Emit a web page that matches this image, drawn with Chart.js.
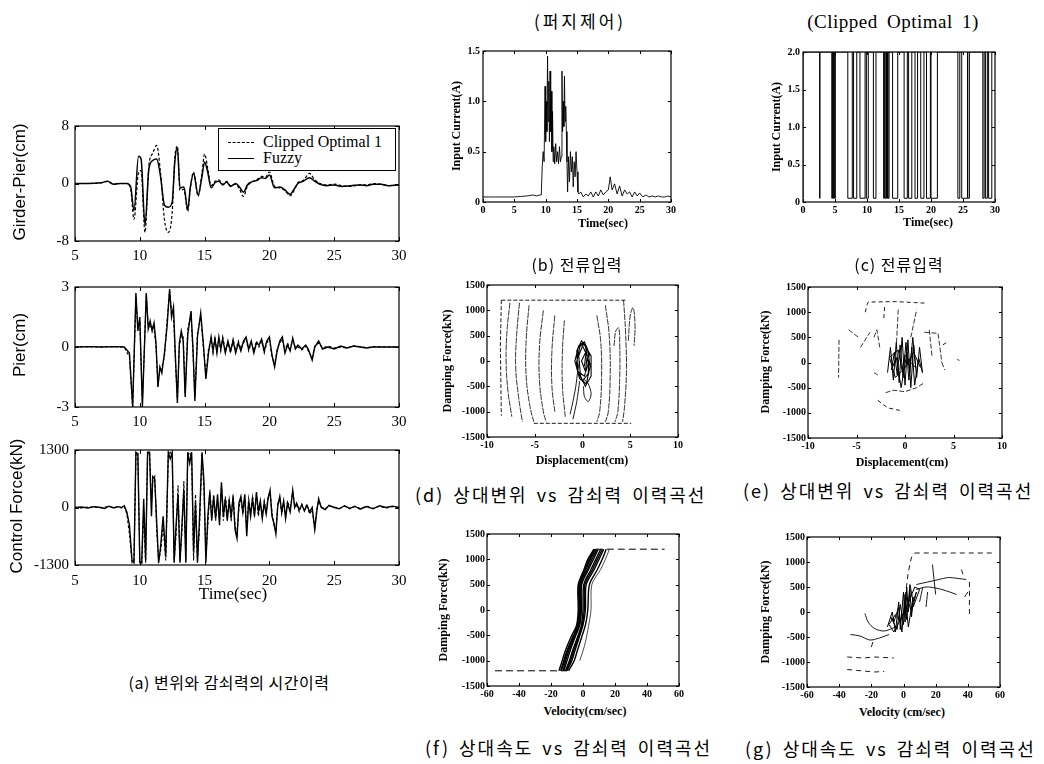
<!DOCTYPE html>
<html>
<head>
<meta charset="utf-8">
<script src="https://cdn.jsdelivr.net/npm/chart.js@4.4.0/dist/chart.umd.min.js"></script>
<style>
  body { margin: 0; background: #fff; width: 1044px; height: 764px; position: relative; overflow: hidden; }
  .box { position: absolute; }
</style>
</head>
<body>
<script>
// ---------- (a) time histories ----------
const tA1 = [5,6,7,7.5,8, 8.5,9,9.3,9.55,9.9, 10.1,10.4,10.7,11.0,11.3, 11.6,11.9,12.2,12.5,12.7,
  12.9,13.1,13.4,13.7,13.9, 14.15,14.5,14.8,15.0,15.25, 15.5,15.8,16.1,16.4,16.7, 17.0,17.4,17.7,18.0,18.3,
  18.6,19.0,19.4,19.7,20.0, 20.4,20.8,21.2,21.6,21.9, 22.2,22.6,23.1,23.5,23.9, 24.4,25.0,25.6,26.3,27.0,
  27.5,28.0,28.6,29.2,30];
const gpFuzzy = [0,0,0.1,0.3,-0.1, 0,0,-0.5,-3.8,3.8, 3.4,-5.8,2.0,3.2,3.4, 1.0,-3.0,-3.3,-2.6,3.0,
  5.0,-0.6,-0.5,-3.6,-0.5, 1.4,-1.6,1.0,3.0,1.5, -0.6,0.1,0.3,-0.2,0.2, -0.4,0,-0.5,-1.2,-0.2,
  0.2,0.4,0.8,0.7,1.2, -0.6,-0.5,-0.9,-1.5,-0.8, 0,0.3,0.8,0.3,-0.1, -0.3,-0.2,-0.4,-0.3,-0.2,
  -0.3,-0.1,-0.1,-0.3,-0.2];
const gpClipped = [0,0,0.1,0.3,-0.1, 0,0,-0.8,-5.0,1.5, 1.8,-6.8,2.5,4.2,5.3, 1.5,-5.0,-6.8,-4.0,3.5,
  5.2,-1.0,-0.8,-3.9,-0.6, 1.6,-1.8,1.5,4.1,2.0, -0.3,0.3,0.5,-0.1,0.3, -0.3,-0.1,-0.8,-1.8,-0.4,
  0.2,0.5,1.0,0.9,1.6, -0.4,-0.6,-1.0,-1.7,-1.0, 0.1,0.4,1.4,0.5,0, -0.2,-0.1,-0.3,-0.4,-0.2,
  -0.2,0,-0.1,-0.3,-0.2];

const tA2 = [5,6,7,8,8.8, 9.2,9.45,9.7,9.85,10.0, 10.2,10.5,10.65,10.8,10.95, 11.1,11.25,11.4,11.55,11.7,
  11.9,12.1,12.3,12.45,12.6, 12.75,12.9,13.05,13.2,13.35, 13.5,13.7,13.95,14.1,14.25, 14.45,14.7,14.9,15.1,15.3,
  15.5,15.65,15.8,15.95,16.1, 16.25,16.4,16.6,16.8,17.0, 17.2,17.4,17.6,17.8,18.0, 18.2,18.4,18.6,18.8,19.0,
  19.2,19.4,19.6,19.8,20.0, 20.2,20.4,20.6,20.8,21.0, 21.2,21.4,21.6,21.8,22.0, 22.2,22.5,22.8,23.0,23.3,
  23.5,23.8,24.1,24.5,25.0, 25.5,26.0,26.5,27.0,27.5, 28.0,29.0,30];
const pierFuzzy = [0,0.02,0,0.02,0, -0.3,-3.0,2.7,0.8,1.5, -3.0,2.7,0.9,1.3,0.8, 1.2,0.2,-2.0,-1.0,-1.3,
  -0.3,1.0,2.9,1.5,2.0, -0.5,-2.8,0.2,0.8,0.3, -2.5,0.6,1.8,0.0,-2.7, 0.5,1.7,0.2,-1.6,-0.3,
  0.5,-0.2,0.4,-0.3,0.5, -0.1,0.4,-0.3,0.3,-0.2, 0.3,-0.3,0.2,-0.2,0.3, 0.5,-0.1,0.3,-0.3,0.2,
  0.1,0.4,-0.2,0.3,0.5, -0.4,-1.0,-0.2,0.3,0.5, -0.3,0.1,-0.2,0.45,-0.1, 0.1,-0.1,0.1,-0.1,-0.65,
  0.0,0.3,-0.1,0.0,-0.1, 0.05,-0.05,0.05,0,-0.05, 0,0,0];
const pierClipped = [0,0.02,0,0.02,0, -0.5,-3.0,2.5,1.0,1.2, -2.8,2.6,1.1,1.0,1.1, 0.9,0.0,-1.8,-1.2,-1.0,
  -0.5,1.3,2.8,1.8,1.6, -0.8,-2.6,0.0,0.6,0.5, -2.3,0.9,1.6,-0.2,-2.5, 0.7,1.5,0.0,-1.4,-0.1,
  0.4,-0.3,0.5,-0.2,0.4, -0.2,0.5,-0.2,0.2,-0.3, 0.4,-0.2,0.3,-0.1,0.2, 0.4,-0.2,0.2,-0.2,0.3,
  0.0,0.3,-0.3,0.2,0.4, -0.5,-0.9,-0.1,0.2,0.4, -0.2,0.2,-0.1,0.35,0.0, 0.0,-0.15,0.05,-0.2,-0.55,
  0.05,0.2,-0.05,0.05,-0.05, 0,-0.05,0.05,0.02,-0.03, 0.02,0,0];

const tA3 = [5,5.5,6,6.5,7, 7.3,7.6,8,8.3,8.6, 8.8,9.0,9.2,9.4,9.55, 9.7,9.85,10.0,10.15,10.3,
  10.45,10.6,10.75,10.9,11.0, 11.15,11.3,11.45,11.6,11.8, 12.0,12.2,12.35,12.5,12.65, 12.8,12.95,13.1,13.25,13.4,
  13.55,13.7,13.85,14.0,14.15, 14.3,14.45,14.6,14.8,14.95, 15.1,15.25,15.4,15.55,15.7, 15.85,16.0,16.15,16.3,16.45,
  16.6,16.75,16.9,17.05,17.2, 17.35,17.5,17.65,17.8,17.95, 18.1,18.25,18.4,18.55,18.7, 18.85,19.0,19.15,19.3,19.45,
  19.6,19.75,19.9,20.05,20.2, 20.35,20.5,20.65,20.8,20.95, 21.1,21.25,21.4,21.6,21.8, 21.95,22.1,22.3,22.5,22.7,
  22.9,23.1,23.3,23.5,23.65, 23.8,24.0,24.3,24.6,25.0, 25.4,25.8,26.2,26.6,27.0, 27.5,28.0,28.5,29.0,29.5, 30];
const forceFuzzy = [0,10,-10,20,0, -20,30,-10,20,0, 40,-100,-400,-1200,-1250, 1250,1200,-1250,-1250,200,
  -1200,1250,1250,-200,700, 650,-300,-1250,-900,-200, -1100,1250,1100,1250,-1250, -400,300,-1250,-400,400,
  -1250,1250,1000,1250,-1000, 100,-1250,-300,1250,600, -1250,-200,350,-300,250, -250,300,-400,570,-200,
  200,-300,150,-200,250, -500,-700,100,250,-100, 300,-650,150,-200,200, -200,350,-100,150,-250,
  100,-150,200,390,-200, -350,-600,50,250,-100, 150,-250,100,-100,390, 0,100,-50,60,-80,
  50,-100,0,-500,-100, 200,0,-50,50,0, -30,40,-20,30,-40, 20,-30,40,0,30, 0];
const forceClipped = [0,-10,10,10,-10, 10,20,0,10,-10, 30,-150,-600,-1250,-1200, 1200,1250,-1200,-1250,-100,
  -1250,1200,1250,100,600, 700,-500,-1200,-1000,-400, -1200,1200,1250,1150,-1200, -600,500,-1200,-600,600,
  -1200,1200,1250,1100,-1200, 300,-1200,-500,1200,400, -1100,-400,400,-200,300, -300,200,-300,450,-300,
  250,-200,200,-300,300, -400,-600,0,200,-150, 250,-550,200,-100,250, -150,300,-200,100,-200,
  150,-100,250,350,-100, -400,-550,100,200,-150, 100,-200,150,-50,350, 50,50,-100,80,-50,
  80,-150,-50,-450,-50, 150,20,-30,30,10, -20,30,-30,20,-20, 30,-20,30,-10,20, 0];

// ---------- (b) fuzzy input current ----------
const tB = [0,1,2,3,4,5,6,7,8,8.5,9,9.3,9.45,
  9.6,9.75,9.9,10.0,10.1,10.2,10.3,10.4,10.5,10.6,10.7,10.8,10.9,11.0,11.1,11.2,
  11.3,11.45,11.6,11.75,11.9,12.05,12.2,12.35,12.5,
  12.6,12.7,12.8,12.9,13.0,13.1,13.2,13.3,13.4,13.5,
  13.65,13.8,13.95,14.1,14.25,14.4,14.55,14.7,14.85,15.0,15.15,15.3,
  15.6,16,16.4,16.8,17.2,17.6,18,18.4,18.8,19.2,19.6,20,20.3,20.6,21,21.4,21.8,22.2,22.6,23,
  23.4,23.8,24.2,24.6,25,25.5,26,26.5,27,27.5,28,28.5,29,29.5,30];
const curB = [0.05,0.05,0.05,0.05,0.05,0.05,0.055,0.06,0.07,0.06,0.07,0.07,0.35,
  0.5,0.4,1.15,0.6,1.0,0.7,1.45,0.8,1.2,0.6,1.3,0.7,1.1,0.5,0.9,0.4,
  0.55,0.38,0.58,0.4,0.5,0.38,0.55,0.4,0.45,
  1.3,0.7,1.0,0.75,1.25,0.8,0.95,0.7,0.4,0.1,
  0.45,0.2,0.5,0.3,0.45,0.15,0.4,0.25,0.5,0.3,0.1,0.08,
  0.1,0.05,0.08,0.06,0.1,0.05,0.1,0.06,0.12,0.07,0.1,0.12,0.25,0.12,0.18,0.08,0.16,0.06,0.12,0.08,
  0.1,0.05,0.1,0.06,0.09,0.05,0.07,0.05,0.06,0.05,0.06,0.05,0.05,0.06,0.05];

// ---------- (c) clipped optimal input current (on/off) ----------
const cT = [0,2.6,2.65,4.5,4.6, 4.75,4.85,4.95,5.05,7.0, 7.7,7.9,8.4,8.9,9.7, 9.9,10.2,11.0,11.4,12.6,
  12.7,12.8,12.95,13.05,13.2, 13.3,13.45,14.0,14.8,15.8, 16.3,16.5,17.0,17.5,17.9, 18.4,18.9,19.3,19.9,20.0,
  21.0,24.2,24.5,24.8,25.7, 25.75,26.0,28.1,28.3,28.5, 28.8,29.0,29.5,29.8,30];
const cI = [0.05,2,0.05,2,0.05, 2,0.05,2,0.05,2, 0.05,2,0.05,2,0.05, 2,0.05,2,0.05,2,
  0.05,2,0.05,2,0.05, 2,0.05,2,0.05,2, 0.05,2,0.05,2,0.05, 2,0.05,2,0.05,2,
  0.05,2,0.05,2,0.05, 2,0.05,2,0.05,2, 0.05,2,0.05,2,2];

// ---------- (d) fuzzy: displacement vs damping force ----------
const dDashed = [
  [[-8.5,1200],[4.6,1200]],
  [[-5.1,-1230],[5.1,-1230]],
  [[-8.5,1200],[-8.6,300],[-8.5,-1080]]
];
const dLoops = [
  [[-7.6,1150],[-7.9,600],[-8.0,0],[-7.8,-600],[-7.4,-1100]],
  [[-6.6,1150],[-6.9,500],[-7.0,-100],[-6.7,-700],[-6.3,-1200]],
  [[-5.6,1100],[-5.9,400],[-5.9,-300],[-5.5,-900],[-5.1,-1200]],
  [[-4.1,1000],[-4.5,300],[-4.5,-400],[-4.1,-1000],[-3.8,-1200]],
  [[-2.9,900],[-3.2,200],[-3.2,-500],[-2.9,-1000]],
  [[-1.9,800],[-2.1,200],[-2.1,-500],[-1.8,-1100]],
  [[1.5,900],[1.9,400],[2.0,-300],[1.8,-1000],[1.5,-1200]],
  [[2.4,1100],[2.8,500],[2.9,-300],[2.7,-1000],[2.4,-1200]],
  [[3.3,300],[3.5,600],[3.8,650],[3.9,300],[3.9,-300],[3.7,-1000],[3.4,-1200]],
  [[4.3,1200],[4.5,600],[4.6,-200],[4.4,-900],[4.2,-1200]],
  [[4.8,400],[5.0,900],[5.3,1050],[5.5,700],[5.4,300]]
];
const dCore = [[-0.7,-100],[-0.2,350],[0.3,300],[0.6,-50],[0.2,-300],[-0.5,-200],[-0.6,200],[-0.1,400],
  [0.5,250],[0.8,-100],[0.4,-450],[-0.3,-350],[-0.8,0],[-0.4,300],[0.2,380],[0.7,150],[0.6,-250],[0,-400],
  [-0.6,-150],[-0.5,250],[0.1,350],[0.9,100],[0.9,-300],[0.3,-500],[-0.2,-300],[-0.4,100],[0,300],[0.5,100],
  [0.3,-200],[-0.1,0],[0.4,200],[0.2,-100]];
const dTail = [
  [[0.1,-350],[0.6,-450],[0.9,-650],[0.6,-800],[0.2,-700],[0.1,-500]],
  [[-1.3,-1050],[-1.0,-800],[-0.7,-500],[-0.5,-200],[-0.3,0]],
  [[-1.0,-1150],[-0.6,-800],[-0.3,-400]]
];

// ---------- (e) clipped optimal: displacement vs damping force ----------
const eDashed = [
  [[-4.1,1000],[-3.9,1150],[-3.8,1200],[-1,1210],[1,1190],[2,1180]],
  [[-2.1,1100],[-2.2,850]],
  [[-2.8,-750],[-1.8,-900],[-0.6,-950],[-0.3,-900]],
  [[3.9,350],[4.3,400]],
  [[5.4,60],[5.6,40]]
];
const eStrokes = [
  [[-6.8,450],[-6.85,-300]],
  [[-5.8,650],[-4.8,500]],
  [[-4.6,300],[-3.6,600]],
  [[-3.2,500],[-2.9,650],[-2.6,300]],
  [[-0.7,1050],[-0.9,300]],
  [[0.6,500],[1.2,1050]],
  [[2,600],[3.4,580],[3.6,300],[3.8,0]],
  [[2.5,650],[2.8,100]],
  [[3.8,0],[4.1,-150]],
  [[-2,-600],[-1.2,-550],[0,-580],[1.2,-500],[2,-400]],
  [[-3.2,-200],[-2.8,-250]]
];
const eCore = [[-1.8,-200],[-1.5,300],[-1.2,-350],[-0.9,400],[-0.6,-400],[-0.3,500],[0,-450],[0.3,450],
  [0.6,-500],[0.9,350],[1.2,-300],[1.5,300],[1.8,-200],[1.4,100],[1.0,-450],[0.7,300],[0.4,-350],[0.1,400],
  [-0.2,-300],[-0.5,350],[-0.8,-250],[-1.1,200],[-1.4,-150],[-0.9,100],[-0.4,-500],[0.2,200],[0.5,-200],
  [0.8,500],[1.1,-100],[0.6,0],[0,150],[-0.3,-150],[-0.7,250],[-1.6,100],[-1.0,-300],[0.0,-100],[0.9,200],[1.6,-100]];

// ---------- (f) fuzzy: velocity vs damping force ----------
const fDashed = [
  [[8,1200],[51,1200]],
  [[-55,-1200],[-10,-1200]]
];
const fCurves = [
  [[-15,-1200],[-13,-1000],[-11,-800],[-7,-500],[-4,-300],[-3,0],[-3,500],[0.6,800],[3,1000],[6.8,1200]],
  [[-14,-1200],[-12,-1000],[-10,-800],[-6,-500],[-3.5,-300],[-2.5,0],[-2.5,500],[1.2,800],[3.8,1000],[7.4,1200]],
  [[-13.5,-1200],[-11.5,-1000],[-9.5,-800],[-5.5,-500],[-3,-300],[-2,0],[-2,500],[2,800],[4.5,1000],[8,1200]],
  [[-12.5,-1200],[-10.8,-1000],[-8.8,-800],[-5,-500],[-2.5,-300],[-1.5,0],[-1.4,500],[2.8,800],[5.5,1000],[8.8,1200]],
  [[-12,-1200],[-10,-1000],[-8,-800],[-4.5,-500],[-2,-300],[-1,0],[-0.8,500],[3.5,800],[6.5,1000],[9.5,1200]],
  [[-11,-1200],[-8.5,-1000],[-6.5,-800],[-3,-500],[-1,-300],[0,0],[0.5,500],[5,800],[8,1000],[11,1200]],
  [[-10.5,-1200],[-7.8,-1000],[-5.8,-800],[-2.5,-500],[-0.5,-300],[0.8,0],[1.2,500],[6,800],[9,1000],[12,1200]],
  [[-10,-1200],[-7,-1000],[-5,-800],[-2,-500],[0,-300],[1.5,0],[2,500],[7,800],[10,1000],[13,1200]],
  [[-9,-1200],[-5.5,-1000],[-3.5,-800],[-0.5,-500],[1.5,-300],[3,0],[4,500],[9,800],[12,1000],[14.5,1200]]
];
const fOuter = [[-2,-1000],[1,-700],[3,-400],[5,0],[5.5,500],[11,800],[14,1000],[16.5,1200]];

// ---------- (g) clipped optimal: velocity vs damping force ----------
const gDashed = [
  [[1,300],[3,800],[5,1100],[7,1180]],
  [[7,1180],[56,1180]],
  [[41,600],[41,-50]],
  [[36,850],[37,750]],
  [[-35,-900],[-25,-920],[-18,-900],[-6,-920]],
  [[-35,-1150],[-25,-1180],[-18,-1200],[-12,-1190]]
];
const gStrokes = [
  [[18,950],[20,350]],
  [[8,550],[15,600],[22,650],[28,690],[34,670],[39,650]],
  [[8,450],[14,500],[20,480],[26,430],[33,350]],
  [[40,400],[38,300]],
  [[10,200],[12,500]],
  [[14,100],[15,400]],
  [[-24,-30],[-22,-200],[-18,-330],[-12,-380],[-5,-300]],
  [[-33,-450],[-27,-480],[-21,-560],[-15,-520],[-9,-450]],
  [[-20,-700],[-19,-600]]
];
const gCore = [[-10,-300],[-7,0],[-5,-400],[-3,200],[-2,-350],[0,400],[1,-200],[2,500],[3,0],[4,450],[5,-100],
  [6,300],[3,-300],[1,350],[-1,-400],[-3,100],[-6,-200],[-8,-100],[-4,-350],[-2,150],[0,-250],[1,200],[2,-150],
  [4,550],[6,200],[8,400],[5,0],[2,300],[0,0],[-2,-200],[-5,-50],[-9,-250],[-6,-400],[-1,-100],[2,100],[7,500],
  [10,450],[6,100]];

// ---------- helpers ----------
function xy(xs, ys) { return xs.map((x, i) => ({x: x, y: ys[i]})); }
function pts(arr) { return arr.map(p => ({x: p[0], y: p[1]})); }
function line(data, w, dash, extra) {
  return Object.assign({data: data, borderColor: '#000', borderWidth: w, borderDash: dash || [],
    pointRadius: 0, fill: false, tension: 0}, extra || {});
}

// box round the plot with inward ticks, like the original
const framePlugin = {
  id: 'frame',
  afterDatasetsDraw(chart, args, opts) {
    const ctx = chart.ctx, a = chart.chartArea, x = chart.scales.x, y = chart.scales.y;
    const len = opts.len || 4;
    ctx.save();
    ctx.strokeStyle = '#000';
    ctx.lineWidth = opts.width || 1.2;
    ctx.strokeRect(a.left, a.top, a.right - a.left, a.bottom - a.top);
    ctx.beginPath();
    x.ticks.forEach(t => {
      const px = Math.round(x.getPixelForValue(t.value)) + 0.5;
      ctx.moveTo(px, a.bottom); ctx.lineTo(px, a.bottom - len);
      ctx.moveTo(px, a.top); ctx.lineTo(px, a.top + len);
    });
    y.ticks.forEach(t => {
      const py = Math.round(y.getPixelForValue(t.value)) + 0.5;
      ctx.moveTo(a.left, py); ctx.lineTo(a.left + len, py);
      ctx.moveTo(a.right, py); ctx.lineTo(a.right - len, py);
    });
    ctx.lineWidth = 1;
    ctx.stroke();
    ctx.restore();
  }
};

function makeChart(r, datasets, xo, yo, font, tickLen) {
  const padT = 12, padR = 16;
  const w = r.R - r.L + r.yW + padR, h = r.B - r.T + padT + r.xH;
  const div = document.createElement('div');
  div.className = 'box';
  div.style.left = (r.L - r.yW) + 'px';
  div.style.top = (r.T - padT) + 'px';
  const cv = document.createElement('canvas');
  cv.width = w; cv.height = h;
  cv.style.width = w + 'px'; cv.style.height = h + 'px';
  div.appendChild(cv);
  document.body.appendChild(div);
  return new Chart(cv, {
    type: 'line',
    data: {datasets: datasets},
    options: {
      responsive: false,
      animation: false,
      devicePixelRatio: 1,
      layout: {padding: {top: padT, right: padR, left: 0, bottom: 0}},
      plugins: {legend: {display: false}, tooltip: {enabled: false}, frame: {len: tickLen}},
      elements: {point: {radius: 0}},
      scales: {
        x: {
          type: 'linear', min: xo.min, max: xo.max,
          ticks: {stepSize: xo.step, font: font, color: '#000', padding: xo.pad, maxRotation: 0,
            autoSkip: false, callback: xo.fmt || (v => String(v))},
          grid: {display: false, drawTicks: false}, border: {display: false},
          afterFit: s => { s.height = r.xH; }
        },
        y: {
          type: 'linear', min: yo.min, max: yo.max,
          ticks: {stepSize: yo.step, font: font, color: '#000', padding: yo.pad,
            autoSkip: false, callback: yo.fmt || (v => String(v))},
          grid: {display: false, drawTicks: false}, border: {display: false},
          afterFit: s => { s.width = r.yW; }
        }
      }
    },
    plugins: [framePlugin]
  });
}

function addText(x, y, s, font, rot, left, extra) {
  const d = document.createElement('div');
  d.textContent = s;
  d.style.cssText = 'position:absolute;white-space:nowrap;line-height:1;color:#000;left:' + x + 'px;top:' + y +
    'px;font:' + font + ';' + (extra || '');
  d.style.transform = (left ? 'translate(0,-50%)' : 'translate(-50%,-50%)') + (rot ? ' rotate(-90deg)' : '');
  document.body.appendChild(d);
}

// ---------- fonts ----------
const bigTick = {family: 'Liberation Serif', size: 15};
const smallTick = {family: 'Liberation Serif', size: 10, weight: 'bold'};
const f1 = v => (v === 0 ? '0' : v.toFixed(1));

// ---------- panel (a) ----------
const xTime = {min: 5, max: 30, step: 5, pad: 6};
const a1 = makeChart({L: 75, T: 123, R: 399, B: 241, yW: 75, xH: 26}, [
  line(xy(tA1, gpClipped), 1.2, [3, 2], {label: 'Clipped Optimal 1', cubicInterpolationMode: 'monotone'}),
  line(xy(tA1, gpFuzzy), 1.5, [], {label: 'Fuzzy', cubicInterpolationMode: 'monotone'})
], xTime, {min: -8, max: 8, step: 8, pad: 6}, bigTick, 4);

makeChart({L: 75, T: 284, R: 399, B: 407, yW: 75, xH: 26}, [
  line(xy(tA2, pierClipped), 1.1, [3, 2]),
  line(xy(tA2, pierFuzzy), 1.4)
], xTime, {min: -3, max: 3, step: 3, pad: 6}, bigTick, 4);

makeChart({L: 75, T: 447, R: 399, B: 565, yW: 75, xH: 26}, [
  line(xy(tA3, forceClipped), 1.1, [3, 2]),
  line(xy(tA3, forceFuzzy), 1.4)
], {min: 5, max: 30, step: 5, pad: 7}, {min: -1300, max: 1300, step: 1300, pad: 6}, bigTick, 4);

// legend inside the first plot, built from the dataset labels
(function () {
  const lg = document.createElement('div');
  lg.style.cssText = 'position:absolute;left:218px;top:128px;width:176px;height:41px;border:1px solid #000;background:#fff;';
  a1.data.datasets.forEach((ds, i) => {
    const yy = 13 + i * 16;
    const ln = document.createElement('div');
    ln.style.cssText = 'position:absolute;left:9px;width:26px;top:' + yy + 'px;border-top:' +
      (ds.borderDash.length ? '1.2px dashed #000' : '1.5px solid #000') + ';';
    lg.appendChild(ln);
    const tx = document.createElement('div');
    tx.textContent = ds.label;
    tx.style.cssText = 'position:absolute;left:44px;top:' + (yy - 9) + 'px;font:16px "Liberation Serif";line-height:18px;white-space:nowrap;';
    lg.appendChild(tx);
  });
  document.body.appendChild(lg);
})();

// ---------- panels (b), (c) ----------
makeChart({L: 483, T: 51, R: 671, B: 202, yW: 40, xH: 16}, [
  line(xy(tB, curB), 0.9)
], {min: 0, max: 30, step: 5, pad: 2}, {min: 0, max: 1.5, step: 0.5, pad: 3, fmt: f1}, smallTick, 3);

makeChart({L: 803, T: 52, R: 995, B: 202, yW: 40, xH: 16}, [
  line(xy(cT, cI), 1.0, [], {stepped: 'after'})
], {min: 0, max: 30, step: 5, pad: 2}, {min: 0, max: 2, step: 0.5, pad: 3, fmt: f1}, smallTick, 3);

// ---------- panels (d), (e) ----------
const xDisp = {min: -10, max: 10, step: 5, pad: 2};
const yForce = {min: -1500, max: 1500, step: 500, pad: 2};
makeChart({L: 487, T: 285, R: 678, B: 437, yW: 45, xH: 16},
  dDashed.map(p => line(pts(p), 0.9, [4, 2]))
    .concat(dLoops.map(p => line(pts(p), 0.8, [6, 1], {tension: 0.4})))
    .concat([line(pts(dCore), 1.1)])
    .concat(dTail.map(p => line(pts(p), 0.9, [], {tension: 0.3}))),
  xDisp, yForce, smallTick, 3);

makeChart({L: 808, T: 287, R: 1002, B: 438, yW: 45, xH: 16},
  eDashed.map(p => line(pts(p), 0.9, [4, 3]))
    .concat(eStrokes.map(p => line(pts(p), 0.8, [5, 2])))
    .concat([line(pts(eCore), 1.0)]),
  xDisp, yForce, smallTick, 3);

// ---------- panels (f), (g) ----------
const xVel = {min: -60, max: 60, step: 20, pad: 2};
makeChart({L: 487, T: 534, R: 679, B: 686, yW: 45, xH: 16},
  fDashed.map(p => line(pts(p), 1.0, [7, 4]))
    .concat(fCurves.map(p => line(pts(p), 1.4, [], {tension: 0.3})))
    .concat([line(pts(fOuter), 0.7, [], {tension: 0.3})]),
  xVel, yForce, smallTick, 3);

makeChart({L: 807, T: 537, R: 1000, B: 687, yW: 45, xH: 16},
  gDashed.map(p => line(pts(p), 0.9, [5, 4]))
    .concat(gStrokes.map(p => line(pts(p), 0.9, [], {tension: 0.3})))
    .concat([line(pts(gCore), 1.0)]),
  xVel, yForce, smallTick, 3);

// ---------- texts ----------
const sans17 = '17px "Liberation Sans"';
const serif17 = '17px "Liberation Serif"';
const bold12 = 'bold 12px "Liberation Serif"';
const kr = '"Noto Sans CJK KR", sans-serif';

addText(20, 182, 'Girder-Pier(cm)', sans17, true);
addText(20, 345, 'Pier(cm)', sans17, true);
addText(17, 506, 'Control Force(kN)', sans17, true);
addText(233, 594, 'Time(sec)', serif17);
addText(229, 682, '(a) 변위와 감쇠력의 시간이력', '16px ' + kr, false, false, 'letter-spacing:0.5px;');

addText(580, 20, '(퍼지제어)', '17px ' + kr, false, false, 'letter-spacing:3px;');
addText(893, 22, '(Clipped Optimal 1)', '19px "Liberation Serif"', false, false, 'letter-spacing:0.5px;word-spacing:4px;');

addText(456, 126, 'Input Current(A)', bold12, true);
addText(776, 127, 'Input Current(A)', bold12, true);
addText(603, 223, 'Time(sec)', bold12);
addText(928, 222, 'Time(sec)', bold12);
addText(577, 264, '(b) 전류입력', '16px ' + kr, false, false, 'letter-spacing:1px;');
addText(899, 264, '(c) 전류입력', '16px ' + kr, false, false, 'letter-spacing:1px;');

addText(447, 361, 'Damping Force(kN)', bold12, true);
addText(765, 362, 'Damping Force(kN)', bold12, true);
addText(582, 460, 'Displacement(cm)', bold12);
addText(902, 462, 'Displacement(cm)', bold12);
addText(415, 494, '(d) 상대변위 vs 감쇠력 이력곡선', '18px ' + kr, false, true, 'letter-spacing:2px;word-spacing:3px;');
addText(743, 490, '(e) 상대변위 vs 감쇠력 이력곡선', '18px ' + kr, false, true, 'letter-spacing:2px;word-spacing:3px;');

addText(443, 610, 'Damping Force(kN)', bold12, true);
addText(765, 612, 'Damping Force(kN)', bold12, true);
addText(585, 711, 'Velocity(cm/sec)', bold12);
addText(902, 712, 'Velocity (cm/sec)', bold12);
addText(425, 747, '(f) 상대속도 vs 감쇠력 이력곡선', '18px ' + kr, false, true, 'letter-spacing:2px;word-spacing:3px;');
addText(745, 748, '(g) 상대속도 vs 감쇠력 이력곡선', '18px ' + kr, false, true, 'letter-spacing:2px;word-spacing:3px;');
</script>
</body>
</html>
